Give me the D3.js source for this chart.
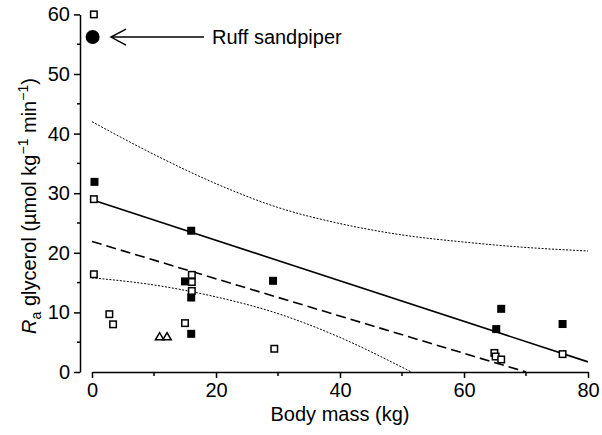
<!DOCTYPE html>
<html>
<head>
<meta charset="utf-8">
<script src="https://cdn.jsdelivr.net/npm/d3@7"></script>
<style>
  body { margin: 0; background: #fff; }
  text { font-family: "Liberation Sans", Arial, sans-serif; fill: #000; }
</style>
</head>
<body>
<div id="chart"></div>
<script>
// values (body mass in kg, Ra glycerol in umol kg-1 min-1)
var openMass = [0.3, 0.3, 0.3, 2.8, 3.4, 15.0, 16.1, 16.1, 16.1, 29.4, 64.9, 65.1, 66.0, 75.9];
var openRa   = [60.0, 29.0, 16.4, 9.7, 8.0, 8.2, 16.3, 15.1, 13.6, 3.9, 3.2, 2.6, 2.1, 3.0];

var filledMass = [0.4, 16.0, 15.0, 16.0, 16.0, 29.2, 66.0, 65.2, 75.9];
var filledRa   = [31.9, 23.7, 15.2, 12.5, 6.4, 15.3, 10.6, 7.2, 8.05];

var triMass = [10.9, 12.1];
var triRa   = [5.8, 5.8];

var ruffMass = 0.1, ruffRa = 56.2;

var fitMass = [0, 80],  fitRa = [28.9, 1.7];
var dashMass = [0, 70], dashRa = [21.9, 0];

var upperMass = [0, 10, 20, 30, 40, 50, 60, 70, 80];
var upperRa   = [42.0, 36.5, 31.6, 27.6, 24.9, 23.0, 21.8, 20.9, 20.3];
var lowerMass = [0, 10, 20, 30, 40, 50, 51.5];
var lowerRa   = [15.8, 14.6, 12.6, 9.8, 5.8, 0.8, 0];

var xTicks = [0, 20, 40, 60, 80];
var yTicks = [0, 10, 20, 30, 40, 50, 60];

var W = 602, H = 435;

var x = d3.scaleLinear().domain([0, 80]).range([92, 588]);
var y = d3.scaleLinear().domain([0, 60]).range([372, 14.4]);

var svg = d3.select('#chart').append('svg')
  .attr('width', W).attr('height', H);

function zip(a, b) { return a.map(function(v, i) { return [v, b[i]]; }); }

// axes
var yAxisX = 80;
var gy = svg.append('g').attr('transform', 'translate(' + yAxisX + ',0)')
  .call(d3.axisLeft(y).tickValues(yTicks).tickSize(6).tickPadding(4).tickSizeOuter(0));
gy.append('g').selectAll('line')
  .data(d3.range(5, 60, 10)).enter().append('line')
  .attr('x1', -3).attr('x2', 0)
  .attr('y1', function(d) { return y(d); }).attr('y2', function(d) { return y(d); });

var gx = svg.append('g').attr('transform', 'translate(0,' + y(0) + ')')
  .call(d3.axisBottom(x).tickValues(xTicks).tickSize(6).tickPadding(5).tickSizeOuter(0));
gx.append('g').selectAll('line')
  .data([10, 30, 50, 70]).enter().append('line')
  .attr('y1', 0).attr('y2', 4)
  .attr('x1', function(d) { return x(d); }).attr('x2', function(d) { return x(d); });

[gx, gy].forEach(function(g) {
  g.selectAll('path.domain').attr('stroke', '#000').attr('stroke-width', 1.5);
  g.selectAll('line').attr('stroke', '#000').attr('stroke-width', 1.5);
  g.selectAll('text').style('font-size', '20px')
    .style('font-family', '"Liberation Sans", Arial, sans-serif');
});

// axis titles
svg.append('text')
  .attr('x', 340).attr('y', 421)
  .attr('text-anchor', 'middle')
  .style('font-size', '20px')
  .text('Body mass (kg)');

var yl = svg.append('text')
  .attr('transform', 'translate(36,206) rotate(-90)')
  .attr('text-anchor', 'middle')
  .style('font-size', '20px');
yl.append('tspan').style('font-style', 'italic').text('R');
yl.append('tspan').attr('dy', 5).style('font-size', '14px').text('a');
yl.append('tspan').attr('dy', -5).text(' glycerol (\u00b5mol kg');
yl.append('tspan').attr('dy', -8).style('font-size', '14px').text('\u22121');
yl.append('tspan').attr('dy', 8).text(' min');
yl.append('tspan').attr('dy', -8).style('font-size', '14px').text('\u22121');
yl.append('tspan').attr('dy', 8).text(')');

// lines
var line = d3.line().x(function(d) { return x(d[0]); }).y(function(d) { return y(d[1]); });
var curve = d3.line().curve(d3.curveMonotoneX)
  .x(function(d) { return x(d[0]); }).y(function(d) { return y(d[1]); });

svg.append('path').attr('d', curve(zip(upperMass, upperRa)))
  .attr('fill', 'none').attr('stroke', '#000').attr('stroke-width', 1)
  .attr('stroke-dasharray', '2,1.5');
svg.append('path').attr('d', curve(zip(lowerMass, lowerRa)))
  .attr('fill', 'none').attr('stroke', '#000').attr('stroke-width', 1)
  .attr('stroke-dasharray', '2,1.5');
svg.append('path').attr('d', line(zip(dashMass, dashRa)))
  .attr('fill', 'none').attr('stroke', '#000').attr('stroke-width', 1.6)
  .attr('stroke-dasharray', '10,5');
svg.append('path').attr('d', line(zip(fitMass, fitRa)))
  .attr('fill', 'none').attr('stroke', '#000').attr('stroke-width', 1.6);

// points
var s = 8;
svg.append('g').selectAll('rect')
  .data(zip(filledMass, filledRa)).enter().append('rect')
  .attr('x', function(d) { return x(d[0]) - s / 2; })
  .attr('y', function(d) { return y(d[1]) - s / 2; })
  .attr('width', s).attr('height', s)
  .attr('fill', '#000');

svg.append('g').selectAll('rect')
  .data(zip(openMass, openRa)).enter().append('rect')
  .attr('x', function(d) { return x(d[0]) - (s - 1.5) / 2; })
  .attr('y', function(d) { return y(d[1]) - (s - 1.5) / 2; })
  .attr('width', s - 1.5).attr('height', s - 1.5)
  .attr('fill', '#fff').attr('stroke', '#000').attr('stroke-width', 1.5);

svg.append('g').selectAll('path')
  .data(zip(triMass, triRa)).enter().append('path')
  .attr('d', d3.symbol().type(d3.symbolTriangle).size(30))
  .attr('transform', function(d) { return 'translate(' + x(d[0]) + ',' + y(d[1]) + ')'; })
  .attr('fill', '#fff').attr('stroke', '#000').attr('stroke-width', 1.5);

svg.append('circle')
  .attr('cx', x(ruffMass)).attr('cy', y(ruffRa)).attr('r', 7)
  .attr('fill', '#000');

// annotation arrow
var ay = y(ruffRa);
svg.append('line')
  .attr('x1', 111).attr('x2', 204).attr('y1', ay).attr('y2', ay)
  .attr('stroke', '#000').attr('stroke-width', 1.5);
svg.append('path')
  .attr('d', 'M126,' + (ay - 8) + 'L111,' + ay + 'L126,' + (ay + 8))
  .attr('fill', 'none').attr('stroke', '#000').attr('stroke-width', 1.5);
svg.append('text')
  .attr('x', 212).attr('y', ay + 7)
  .style('font-size', '20px')
  .text('Ruff sandpiper');
</script>
</body>
</html>
